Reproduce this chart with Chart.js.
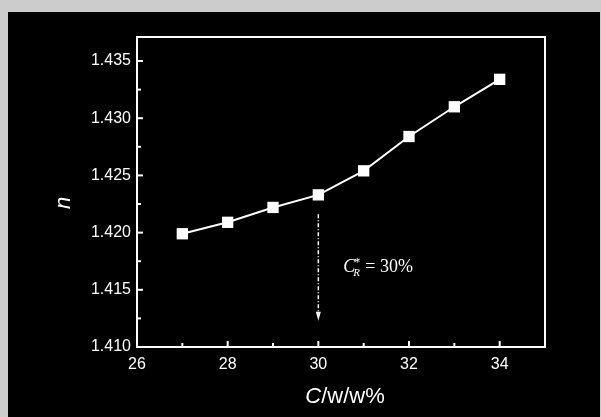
<!DOCTYPE html>
<html>
<head>
<meta charset="utf-8">
<script src="https://cdn.jsdelivr.net/npm/chart.js@4"></script>
<style>
  html, body { margin: 0; padding: 0; background: #cccccc; }
  canvas { display: block; }
</style>
</head>
<body>
<canvas id="myChart" width="601" height="417"></canvas>
<script>
// данные
const conc = [27, 28, 29, 30, 31, 32, 33, 34];
const nValues = [1.4199, 1.4209, 1.4222, 1.4233, 1.4254, 1.4284, 1.4310, 1.4334];
const xTicks = [26, 28, 30, 32, 34];
const yTicks = [1.410, 1.415, 1.420, 1.425, 1.430, 1.435];
// стрелка и подпись C*_R
const arrowX = 30;
const arrowFrom = 1.4216;
const arrowTo = 1.4123;
const noteX = 30.55;
const noteY = 1.4166;

const sans = "'Liberation Sans', Arial, sans-serif";
const serif = "'Liberation Serif', 'Times New Roman', serif";

// фон: серая рамка и черное поле
const backPlugin = {
    id: 'back',
    beforeDraw(chart) {
        let c = chart.ctx;
        c.save();
        c.fillStyle = '#cccccc';
        c.fillRect(0, 0, chart.width, chart.height);
        c.fillStyle = '#000000';
        c.fillRect(8, 12, 592, 405);
        c.restore();
    }
};

// рамка, внутренние засечки, подписи осей, стрелка
const framePlugin = {
    id: 'frame',
    afterDraw(chart) {
        let c = chart.ctx;
        let a = chart.chartArea;
        let xs = chart.scales.x;
        let ys = chart.scales.y;
        c.save();
        c.strokeStyle = '#ffffff';
        c.fillStyle = '#ffffff';
        c.lineWidth = 2;
        c.strokeRect(a.left, a.top, a.right - a.left, a.bottom - a.top);

        // засечки по Y
        c.lineWidth = 2;
        for (let i = 0; i < yTicks.length; i++) {
            let y = ys.getPixelForValue(yTicks[i]);
            c.beginPath(); c.moveTo(a.left, y); c.lineTo(a.left + 6, y); c.stroke();
            let mid = yTicks[i] + (yTicks[1] - yTicks[0]) / 2;
            if (mid < ys.max) {
                let ym = ys.getPixelForValue(mid);
                c.beginPath(); c.moveTo(a.left, ym); c.lineTo(a.left + 4, ym); c.stroke();
            }
        }
        // засечки по X
        for (let i = 0; i < xTicks.length; i++) {
            let x = xs.getPixelForValue(xTicks[i]);
            c.beginPath(); c.moveTo(x, a.bottom); c.lineTo(x, a.bottom - 6); c.stroke();
            let mid = xTicks[i] + (xTicks[1] - xTicks[0]) / 2;
            if (mid < xs.max) {
                let xm = xs.getPixelForValue(mid);
                c.beginPath(); c.moveTo(xm, a.bottom); c.lineTo(xm, a.bottom - 4); c.stroke();
            }
        }

        // подпись оси X: C/w/w%
        c.textBaseline = 'alphabetic';
        c.font = 'italic 22px ' + sans;
        let w1 = c.measureText('C').width;
        c.font = '22px ' + sans;
        let w2 = c.measureText('/w/w%').width;
        let cx = (a.left + a.right) / 2 + 4;
        let left = cx - (w1 + w2) / 2;
        c.font = 'italic 22px ' + sans;
        c.textAlign = 'left';
        c.fillText('C', left, 403);
        c.font = '22px ' + sans;
        c.fillText('/w/w%', left + w1, 403);

        // подпись оси Y: n
        c.save();
        c.translate(a.left - 67, (a.top + a.bottom) / 2 + 11);
        c.rotate(-Math.PI / 2);
        c.font = 'italic 22px ' + sans;
        c.textAlign = 'center';
        c.fillText('n', 0, 0);
        c.restore();

        // штрих-пунктирная стрелка
        let ax = xs.getPixelForValue(arrowX);
        let ay1 = ys.getPixelForValue(arrowFrom);
        let ay2 = ys.getPixelForValue(arrowTo);
        c.lineWidth = 1.5;
        c.setLineDash([4, 2, 1, 2]);
        c.beginPath(); c.moveTo(ax, ay1); c.lineTo(ax, ay2 - 8); c.stroke();
        c.setLineDash([]);
        c.beginPath();
        c.moveTo(ax - 2.5, ay2 - 9);
        c.lineTo(ax + 2.5, ay2 - 9);
        c.lineTo(ax, ay2);
        c.closePath();
        c.fill();

        // C*_R = 30%
        let tx = xs.getPixelForValue(noteX);
        let ty = ys.getPixelForValue(noteY);
        c.textAlign = 'left';
        c.font = 'italic 18px ' + serif;
        c.fillText('C', tx, ty);
        let cw = c.measureText('C').width;
        c.font = '12px ' + serif;
        c.fillText('*', tx + cw - 1, ty - 6);
        c.font = 'italic 11px ' + serif;
        c.fillText('R', tx + cw - 2, ty + 4);
        c.font = '18px ' + serif;
        c.fillText('= 30%', tx + cw + 10, ty);
        c.restore();
    }
};

const ctx = document.getElementById('myChart').getContext('2d');
const myChart = new Chart(ctx, {
    type: 'line',
    data: {
        datasets: [{
            label: 'n',
            data: conc.map((c, i) => ({ x: c, y: nValues[i] })),
            borderColor: '#ffffff',
            borderWidth: 2,
            backgroundColor: '#ffffff',
            pointStyle: 'rect',
            pointRadius: 8,
            pointHoverRadius: 8,
            pointBorderWidth: 0,
            pointBackgroundColor: '#ffffff',
            tension: 0
        }]
    },
    options: {
        responsive: false,
        animation: false,
        devicePixelRatio: 1,
        layout: { padding: { left: 0, top: 37, right: 56, bottom: 0 } },
        plugins: {
            legend: { display: false },
            tooltip: { enabled: false }
        },
        scales: {
            x: {
                type: 'linear',
                min: 26,
                max: 35,
                grid: { display: false, drawTicks: false },
                border: { display: false },
                afterFit: (s) => { s.height = 70; },
                afterBuildTicks: (s) => { s.ticks = xTicks.map(v => ({ value: v })); },
                ticks: {
                    color: '#ffffff',
                    padding: 8,
                    maxRotation: 0,
                    font: { family: sans, size: 16 },
                    callback: (v) => String(v)
                }
            },
            y: {
                type: 'linear',
                min: 1.410,
                max: 1.4371,
                grid: { display: false, drawTicks: false },
                border: { display: false },
                afterFit: (s) => { s.width = 137; },
                afterBuildTicks: (s) => { s.ticks = yTicks.map(v => ({ value: v })); },
                ticks: {
                    color: '#ffffff',
                    padding: 6,
                    font: { family: sans, size: 16 },
                    callback: (v) => Number(v).toFixed(3)
                }
            }
        }
    },
    plugins: [backPlugin, framePlugin]
});
</script>
</body>
</html>
